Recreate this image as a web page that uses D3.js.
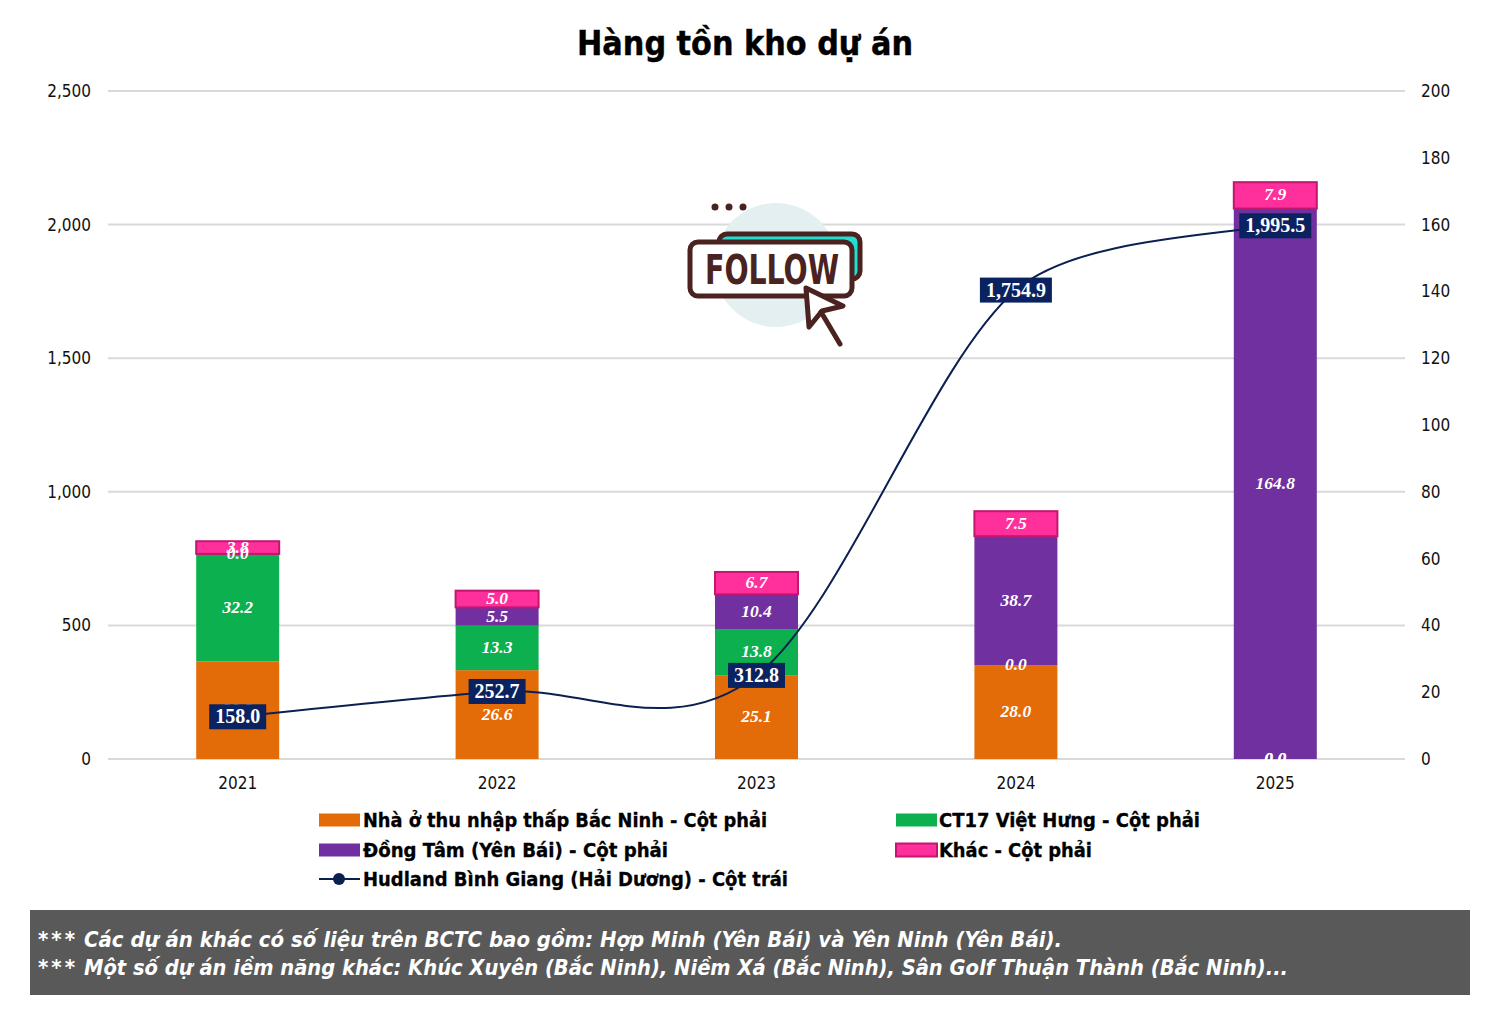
<!DOCTYPE html>
<html><head><meta charset="utf-8">
<script src="https://cdn.jsdelivr.net/npm/d3@7/dist/d3.min.js"></script>
<style>
html,body{margin:0;padding:0;background:#fff}
svg{display:block}
</style></head><body><svg id="c" width="1496" height="1014"></svg>
<script>
const years = ["2021","2022","2023","2024","2025"];
const seriesKeys = ["orange","green","purple","pink"];
const orangeValues = [29.2, 26.6, 25.1, 28.0, 0.0];
const greenValues = [32.2, 13.3, 13.8, 0.0, 0.0];
const purpleValues = [0.0, 5.5, 10.4, 38.7, 164.8];
const pinkValues = [3.8, 5.0, 6.7, 7.5, 7.9];
const lineValues = [158.0, 252.7, 312.8, 1754.9, 1995.5];
const leftTicks = [0, 500, 1000, 1500, 2000, 2500];
const rightTicks = [0, 20, 40, 60, 80, 100, 120, 140, 160, 180, 200];
const legendNames = ["Nhà ở thu nhập thấp Bắc Ninh - Cột phải","CT17 Việt Hưng - Cột phải","Đồng Tâm (Yên Bái) - Cột phải","Khác - Cột phải","Hudland Bình Giang (Hải Dương) - Cột trái"];
const footStars = "***";
const footnotes = ["Các dự án khác có số liệu trên BCTC bao gồm: Hợp Minh (Yên Bái) và Yên Ninh (Yên Bái).","Một số dự án iềm năng khác: Khúc Xuyên (Bắc Ninh), Niềm Xá (Bắc Ninh), Sân Golf Thuận Thành (Bắc Ninh)..."];
const colors = {orange:"#e36c09",green:"#0db04f",purple:"#7030a0",pink:"#ff2f9c",line:"#0b2050"};
const sans = '"DejaVu Sans Condensed","DejaVu Sans",sans-serif';
const serif = '"Liberation Serif",serif';

const svg = d3.select("#c");
const x = d3.scaleBand().domain(years).range([108,1405]).paddingInner(0.68).paddingOuter(0.34);
const yL = d3.scaleLinear().domain([0,2500]).range([759,91]);
const yR = d3.scaleLinear().domain([0,200]).range([759,91]);
const cx = d => x(d)+x.bandwidth()/2;

svg.append("text").attr("x",745).attr("y",55).attr("text-anchor","middle")
  .attr("font-family",sans).attr("font-weight",700).attr("font-size",33.7).attr("stroke","#000").attr("stroke-width",0.4).attr("fill","#000").text("Hàng tồn kho dự án");

// grid
svg.append("g").selectAll("line").data(leftTicks).join("line")
  .attr("x1",108).attr("x2",1405).attr("y1",d=>yL(d)).attr("y2",d=>yL(d))
  .attr("stroke","#d9d9d9").attr("stroke-width",2);

// axes
const gl = svg.append("g").attr("transform","translate(108,0)")
  .call(d3.axisLeft(yL).tickValues(leftTicks).tickSize(0).tickPadding(17).tickFormat(d3.format(",")));
const gr = svg.append("g").attr("transform","translate(1405,0)")
  .call(d3.axisRight(yR).tickValues(rightTicks).tickSize(0).tickPadding(16));
const gx = svg.append("g").attr("transform","translate(0,759)")
  .call(d3.axisBottom(x).tickSize(0).tickPadding(18));
[gl,gr,gx].forEach(g=>{g.select(".domain").remove();g.selectAll("text").attr("font-family",sans).attr("font-size",17).attr("fill","#111");});

// icon (decorative)
const brown="#4a2320";
const icon = svg.append("g");
icon.append("circle").attr("cx",776).attr("cy",265).attr("r",62).attr("fill","#e4eff1");
[715,729,743].forEach(a=>icon.append("circle").attr("cx",a).attr("cy",207).attr("r",3.5).attr("fill",brown));
icon.append("rect").attr("x",719).attr("y",234).attr("width",141).attr("height",45).attr("rx",8).attr("fill","#1fe0d2").attr("stroke",brown).attr("stroke-width",5);
icon.append("rect").attr("x",690).attr("y",242).attr("width",162).attr("height",54).attr("rx",8).attr("fill","#fff").attr("stroke",brown).attr("stroke-width",5);
icon.append("text").attr("x",705).attr("y",284).attr("font-family",sans).attr("font-weight",700).attr("font-size",40)
  .attr("textLength",134).attr("lengthAdjust","spacingAndGlyphs").attr("fill",brown).text("FOLLOW");
icon.append("path").attr("d","M806 288 L843 306 L822 311 L809 327 Z").attr("fill","#fff").attr("stroke",brown).attr("stroke-width",5).attr("stroke-linejoin","round");
icon.append("path").attr("d","M821 312 L840 344").attr("stroke",brown).attr("stroke-width",5).attr("stroke-linecap","round");

// stacked bars
const rows = years.map((y,i)=>({year:y,orange:orangeValues[i],green:greenValues[i],purple:purpleValues[i],pink:pinkValues[i]}));
const stacked = d3.stack().keys(seriesKeys)(rows);
svg.append("g").selectAll("g").data(stacked).join("g").each(function(s){
  d3.select(this).selectAll("rect").data(s).join("rect")
    .attr("x",d=>x(d.data.year)).attr("width",x.bandwidth())
    .attr("y",d=>yR(d[1])).attr("height",d=>yR(d[0])-yR(d[1]))
    .attr("fill",colors[s.key])
    .attr("stroke",s.key==="pink"?"#c2176f":"none").attr("stroke-width",s.key==="pink"?2:0);
});
svg.append("g").selectAll("g").data(stacked).join("g").each(function(s){
  d3.select(this).selectAll("text").data(s).join("text")
    .attr("x",d=>cx(d.data.year)).attr("y",d=>(yR(d[0])+yR(d[1]))/2+5)
    .attr("text-anchor","middle").attr("font-family",serif).attr("font-style","italic").attr("font-weight",700)
    .attr("font-size",17.5).attr("fill","#fff").text(d=>(d[1]-d[0]).toFixed(1));
});

// smoothed line: spline through the scaled points, with a softer approach to the last point
const pts = years.map((y,i)=>[cx(y),yL(lineValues[i])]);
const smooth = d3.path();
smooth.moveTo(pts[0][0],pts[0][1]);
const n = pts.length;
const tangent = i => (i===0||i===n-1) ? [0,0] : [(pts[i+1][0]-pts[i-1][0])/6,(pts[i+1][1]-pts[i-1][1])/6];
for(let i=0;i<n-1;i++){
  const last = i===n-2;
  const a=tangent(i), b=tangent(i+1), damp = last?0.62:1;
  const c1=[pts[i][0]+a[0]*damp, pts[i][1]+a[1]*damp];
  const c2= last
    ? [pts[i+1][0]-(pts[i+1][0]-pts[i][0])/3, pts[i+1][1]-(pts[i+1][1]-pts[i][1])/6]
    : [pts[i+1][0]-b[0], pts[i+1][1]-b[1]];
  smooth.bezierCurveTo(c1[0],c1[1],c2[0],c2[1],pts[i+1][0],pts[i+1][1]);
}
svg.append("path").attr("d",smooth.toString()).attr("fill","none").attr("stroke",colors.line).attr("stroke-width",2);
const lab = svg.append("g").selectAll("g").data(lineValues).join("g");
lab.append("rect").attr("fill","#0b2260");
lab.append("text").attr("x",(d,i)=>pts[i][0]).attr("y",(d,i)=>pts[i][1]+6.5)
  .attr("text-anchor","middle").attr("font-family",serif).attr("font-weight",700).attr("font-size",20).attr("fill","#fff")
  .text(d=>d3.format(",.1f")(d));
lab.each(function(d,i){
  const b=d3.select(this).select("text").node().getBBox();
  d3.select(this).select("rect").attr("x",b.x-6).attr("width",b.width+12).attr("y",pts[i][1]-12.5).attr("height",25);
});

// legend
const legendPos = [[319,820],[896,820],[319,850],[896,850],[319,879]];
const legendWidths = [404,261,305,153,425];
const lg = svg.append("g").selectAll("g").data(legendNames).join("g").attr("transform",(d,i)=>`translate(${legendPos[i][0]},${legendPos[i][1]})`);
lg.each(function(d,i){
  const g=d3.select(this);
  if(i<4){
    const k=seriesKeys[i];
    g.append("rect").attr("x",0).attr("y",-6.5).attr("width",41).attr("height",13).attr("fill",colors[k]).attr("stroke",k==="pink"?"#c2176f":"none").attr("stroke-width",k==="pink"?2:0);
  } else {
    g.append("line").attr("x1",0).attr("x2",41).attr("stroke",colors.line).attr("stroke-width",2);
    g.append("circle").attr("cx",20).attr("r",6).attr("fill",colors.line);
  }
  g.append("text").attr("x",i%2&&i<4?43:44).attr("y",7).attr("font-family",sans).attr("font-weight",700).attr("font-size",19.8).attr("stroke","#000").attr("stroke-width",0.3).attr("fill","#000")
    .attr("textLength",legendWidths[i]).attr("lengthAdjust","spacingAndGlyphs").text(d);
});

// footer
svg.append("rect").attr("x",30).attr("y",910).attr("width",1440).attr("height",85).attr("fill","#595959");
const footWidths = [978,1204];
const fg = svg.append("g").selectAll("g").data(footnotes).join("g").attr("transform",(d,i)=>`translate(0,${947+i*28})`);
fg.append("text").attr("x",38).attr("font-family",sans).attr("font-weight",700).attr("font-style","italic").attr("font-size",22).attr("letter-spacing",3).attr("fill","#fff").text(footStars);
fg.append("text").attr("x",84).attr("font-family",sans).attr("font-weight",700).attr("font-style","italic").attr("font-size",22).attr("fill","#fff")
  .attr("textLength",(d,i)=>footWidths[i]).attr("lengthAdjust","spacingAndGlyphs").text(d=>d);
</script></body></html>
